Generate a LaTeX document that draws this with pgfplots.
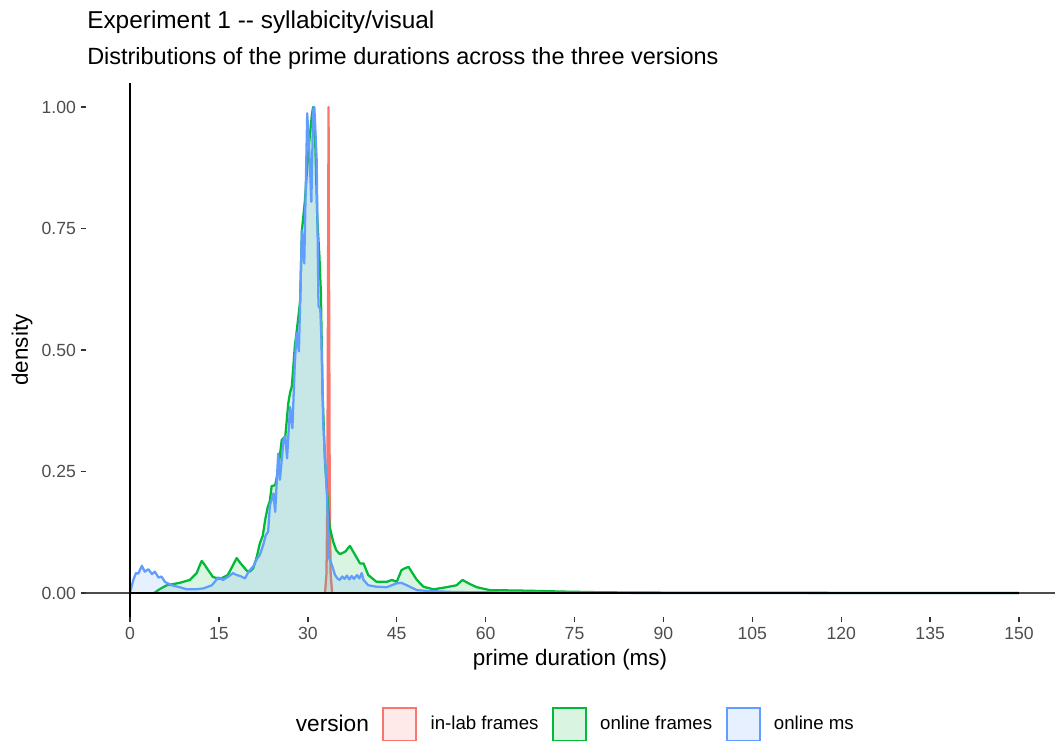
\documentclass[border=0pt]{standalone}
\usepackage{fontspec}
\setmainfont{Liberation Sans}
\usepackage{pgfplots}
\pgfplotsset{compat=1.18}

\definecolor{inlab}{HTML}{F8766D}
\definecolor{onframes}{HTML}{00BA38}
\definecolor{onms}{HTML}{619CFF}
\definecolor{ticktext}{HTML}{4D4D4D}
\definecolor{tickline}{HTML}{333333}
\definecolor{baseline}{HTML}{2F3F55}

% scaled density estimates of prime duration (ms) per version
\pgfplotstableread{
x y
32.90 0
33.15 0.04
33.30 0.20
33.40 0.60
33.50 1.00
33.60 0.60
33.70 0.20
33.85 0.04
34.10 0
}\inlab

\pgfplotstableread{
x y
4.0 0
4.2 0.001
5.0 0.008
6.2 0.016
7.5 0.019
8.4 0.021
10.1 0.027
11.25 0.041
11.7 0.055
12.1 0.066
12.6 0.058
13.2 0.047
14.0 0.033
15.2 0.029
16.5 0.037
17.4 0.058
18.0 0.072
18.6 0.062
19.7 0.046
20.2 0.044
20.8 0.051
21.4 0.075
21.9 0.102
22.4 0.118
22.8 0.150
23.2 0.175
23.6 0.190
23.9 0.220
24.5 0.222
25.0 0.253
25.6 0.315
26.2 0.322
26.7 0.390
27.0 0.412
27.3 0.425
27.6 0.473
27.8 0.507
28.1 0.536
28.7 0.600
29.0 0.745
29.5 0.806
30.1 0.910
30.7 0.986
30.9 1.000
31.2 0.952
31.6 0.770
31.95 0.695
32.2 0.620
32.5 0.410
32.9 0.270
33.3 0.200
33.7 0.135
34.3 0.105
34.8 0.088
35.4 0.080
36.3 0.085
37.1 0.097
38.0 0.078
38.8 0.061
39.4 0.061
40.2 0.037
41.6 0.023
43.3 0.023
44.2 0.027
45.0 0.023
45.8 0.047
46.4 0.051
47.0 0.054
47.5 0.044
48.4 0.027
49.5 0.013
51.2 0.0076
53.4 0.012
55.1 0.016
56.1 0.027
57.1 0.020
58.5 0.012
60.7 0.006
63.6 0.0055
67.5 0.0047
73.0 0.003
80.0 0.0015
90.0 0.0008
100.0 0.0005
120.0 0.0003
150.0 0.0002
}\onframes

\pgfplotstableread{
x y
0.0 0
0.3 0.015
0.56 0.027
1.0 0.041
1.4 0.040
2.0 0.056
2.5 0.044
3.1 0.049
3.7 0.039
4.2 0.044
4.8 0.032
5.3 0.034
5.9 0.023
7.0 0.016
8.4 0.012
9.6 0.0076
11.0 0.0076
12.4 0.0096
13.8 0.016
14.9 0.032
15.7 0.027
16.6 0.034
17.4 0.041
18.0 0.037
18.6 0.035
19.4 0.030
20.0 0.044
20.8 0.055
21.4 0.070
21.9 0.078
22.5 0.100
22.9 0.119
23.3 0.126
23.6 0.180
24.2 0.205
24.5 0.167
25.0 0.287
25.3 0.233
25.9 0.315
26.2 0.322
26.5 0.277
27.0 0.383
27.4 0.339
27.8 0.470
28.1 0.535
28.5 0.497
29.0 0.745
29.4 0.678
29.9 0.987
30.25 0.912
30.6 0.805
30.9 0.994
31.1 1.000
31.5 0.890
31.8 0.590
32.1 0.585
32.3 0.520
32.6 0.350
33.2 0.210
33.6 0.072
34.0 0.060
34.6 0.037
35.0 0.030
35.4 0.027
35.8 0.034
36.2 0.029
36.6 0.036
37.0 0.028
37.4 0.035
37.8 0.029
38.3 0.037
38.7 0.030
39.1 0.041
39.4 0.027
40.2 0.016
41.6 0.013
43.3 0.012
45.0 0.020
45.8 0.021
46.7 0.016
48.4 0.006
50.6 0.004
55.0 0.002
60.0 0.0015
70.0 0.0008
80.0 0.0004
100.0 0.0002
120.0 0.0001
150.0 0
}\onms

\begin{document}
\begin{tikzpicture}
\useasboundingbox (0,0) rectangle (791.25pt,555pt);
\begin{axis}[
  at={(64.16pt,92.0pt)}, anchor=south west,
  scale only axis, width=727.1pt, height=400.95pt,
  xmin=-7.5, xmax=156.07, ymin=-0.05, ymax=1.05,
  axis x line*=bottom, axis y line*=left,
  axis line style={draw=none},
  tick align=outside, major tick length=3.75pt,
  tick style={color=tickline, line width=1.1pt},
  xtick={0,15,...,150}, ytick={0,0.25,0.5,0.75,1},
  /pgf/number format/assume math mode=true,
  yticklabel style={/pgf/number format/.cd, fixed, fixed zerofill, precision=2},
  ticklabel style={font=\fontsize{13.2}{15}\selectfont, text=ticktext},
  xlabel={prime duration (ms)},
  ylabel={density},
  xlabel style={at={(axis description cs:0.4997,-0.0799)}, anchor=center, font=\fontsize{16.8}{20}\selectfont},
  ylabel style={at={(axis description cs:-0.06555,0.5)}, anchor=center, font=\fontsize{16.8}{20}\selectfont},
  legend columns=4,
  legend cell align=left,
  legend style={at={(axis description cs:0.2032,-0.1996)}, anchor=west,
    draw=none, fill=none, inner sep=0pt, outer sep=0pt, column sep=10pt,
    nodes={inner sep=0pt, anchor=west, font=\fontsize{14}{16}\selectfont}},
  legend image code/.code={\draw[#1] (0pt,-12.4pt) rectangle (24.75pt,12.4pt);},
]
% areas and upper outlines, one group after another
\addplot[draw=none, fill=inlab, fill opacity=0.15, forget plot] table {\inlab} \closedcycle;
\addplot[inlab, line width=1.7pt, line join=round, forget plot] table {\inlab};
\addplot[draw=none, fill=onframes, fill opacity=0.15, forget plot] table {\onframes} \closedcycle;
\addplot[onframes, line width=1.7pt, line join=round, forget plot] table {\onframes};
\addplot[draw=none, fill=onms, fill opacity=0.15, forget plot] table {\onms} \closedcycle;
\addplot[onms, line width=1.7pt, line join=round, forget plot] table {\onms};
% reference lines
\addplot[black!70, line width=1.1pt, forget plot] coordinates {(-7.5,0) (0,0)};
\addplot[baseline, line width=1.6pt, forget plot] coordinates {(0,0) (150,0)};
\addplot[black!70, line width=1.1pt, forget plot] coordinates {(150,0) (156.07,0)};
\addplot[black, line width=1.1pt, forget plot] coordinates {(0,-0.05) (0,1.05)};
% legend
\addlegendimage{empty legend}
\addlegendentry{\fontsize{17}{20}\selectfont version}
\addlegendimage{draw=inlab, fill=inlab, fill opacity=0.15, line width=1.5pt}
\addlegendentry{in-lab frames}
\addlegendimage{draw=onframes, fill=onframes, fill opacity=0.15, line width=1.5pt}
\addlegendentry{online frames}
\addlegendimage{draw=onms, fill=onms, fill opacity=0.15, line width=1.5pt}
\addlegendentry{online ms}
\end{axis}
\node[anchor=base west, inner sep=0pt, font=\fontsize{18.3}{22}\selectfont] at (65.25pt,533.25pt) {Experiment 1 -{}- syllabicity/visual};
\node[anchor=base west, inner sep=0pt, font=\fontsize{17.6}{21}\selectfont] at (65.25pt,506.25pt) {Distributions of the prime durations across the three versions};
\end{tikzpicture}
\end{document}
